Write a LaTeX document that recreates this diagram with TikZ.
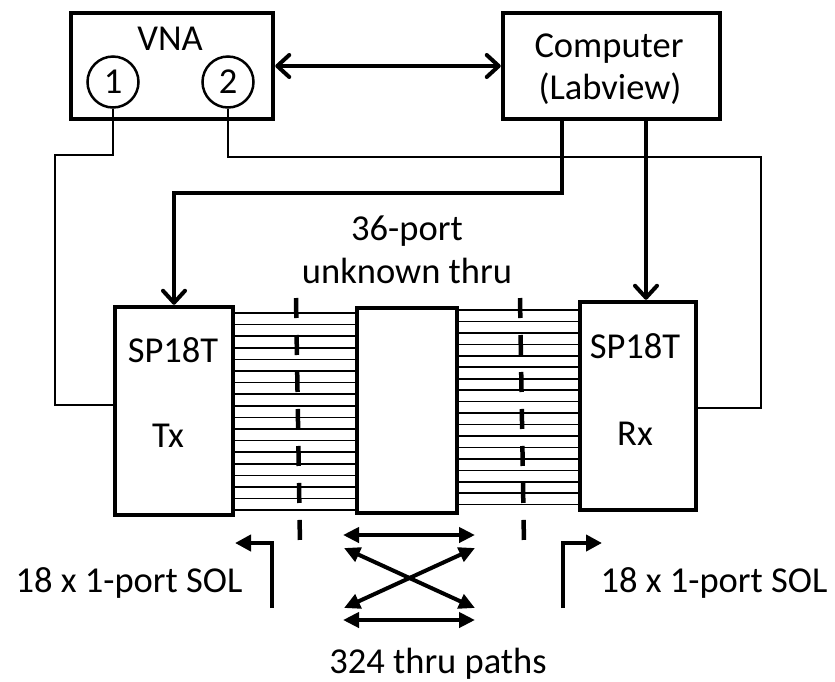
\documentclass[tikz,border=0pt]{standalone}
\usepackage{fontspec}
\setmainfont{Carlito}
\usetikzlibrary{arrows.meta}
\begin{document}
\begin{tikzpicture}[x=1pt,y=-1pt,
  font=\fontsize{36.5}{38}\selectfont,
  blk/.style={draw, line width=4.5pt, inner sep=0pt},
  port/.style={draw, circle, line width=2.5pt, minimum size=51pt, inner sep=0pt},
  wire/.style={line width=2pt},
  bus/.style={line width=1.6pt},
  barb/.tip={Straight Barb[length=12pt,width=22pt,round]},
  ctrl/.style={line width=4pt, -barb},
  link/.style={line width=4pt, barb-barb},
  dbl/.style={line width=4pt, {Triangle[length=16pt,width=15pt]}-{Triangle[length=16pt,width=15pt]}},
  bent/.style={line width=4.5pt, -{Triangle[length=16pt,width=16pt]}},
  plane/.style={line width=4.5pt, dash pattern=on 20pt off 17pt},
  txt/.style={anchor=base, inner sep=0pt}
]
\useasboundingbox (0,0) rectangle (835,681);

% boxes
\node[blk, minimum width=202pt, minimum height=106pt] (vna) at (172,66) {};
\node[blk, minimum width=217pt, minimum height=106pt] (comp) at (611.5,66) {};
\node[blk, minimum width=118pt, minimum height=208pt] (tx) at (174,411) {};
\node[blk, minimum width=100pt, minimum height=205pt] (mid) at (407,410.5) {};
\node[blk, minimum width=116pt, minimum height=208pt] (rx) at (638,406) {};

% texts
\node[txt] (tvna) at (170,50) {VNA};
\node[txt] (tcomp) at (609,57) {Computer};
\node[txt] (tlab) at (610,99) {(Labview)};
\node[txt] (ttx1) at (173,362) {SP18T};
\node[txt] (ttx2) at (168,447) {Tx};
\node[txt] (trx1) at (635,358) {SP18T};
\node[txt] (trx2) at (635,445) {Rx};
\node[txt] (tunk1) at (407,240) {36-port};
\node[txt] (tunk2) at (407,283) {unknown thru};
\node[txt] (tsoll) at (129,592) {18 x 1-port SOL};
\node[txt] (tsolr) at (714,592) {18 x 1-port SOL};
\node[txt] (tpaths) at (438,673) {324 thru paths};

% ports
\node[port] (p1) at (113,82) {1};
\node[port] (p2) at (228,82) {2};

% VNA <-> computer
\draw[link] (vna.east |- 0,66) -- (comp.west |- 0,66);

% RF wires
\draw[wire] (p1.south) |- (55,155) |- (tx.west |- 0,405);
\draw[wire] (p2.south) |- (761,157) |- (rx.east |- 0,408);

% control lines
\draw[ctrl] (comp.south -| 562,0) |- (tx.north |- 0,193) -- (tx.north);
\draw[ctrl] (comp.south -| 646,0) -- (rx.north -| 646,0);

% bus lines
\foreach \i in {0,...,17} {
  \draw[bus] (tx.east |- 0,{313+\i*11.6}) -- (mid.west |- 0,{313+\i*11.6});
  \draw[bus] (mid.east |- 0,{310+\i*11.45}) -- (rx.west |- 0,{310+\i*11.45});
}

% reference planes
\draw[plane] (296,298) -- (300,545);
\draw[plane] (520,298) -- (524,545);

% SOL bent arrows
\draw[bent] (272,608) |- (235,543);
\draw[bent] (563,608) |- (602,543);

% thru path arrows
\draw[dbl] (343,535) -- (475,535);
\draw[dbl] (344,548) -- (475,608);
\draw[dbl] (344,608) -- (475,548);
\draw[dbl] (343,620) -- (475,620);
\end{tikzpicture}
\end{document}
